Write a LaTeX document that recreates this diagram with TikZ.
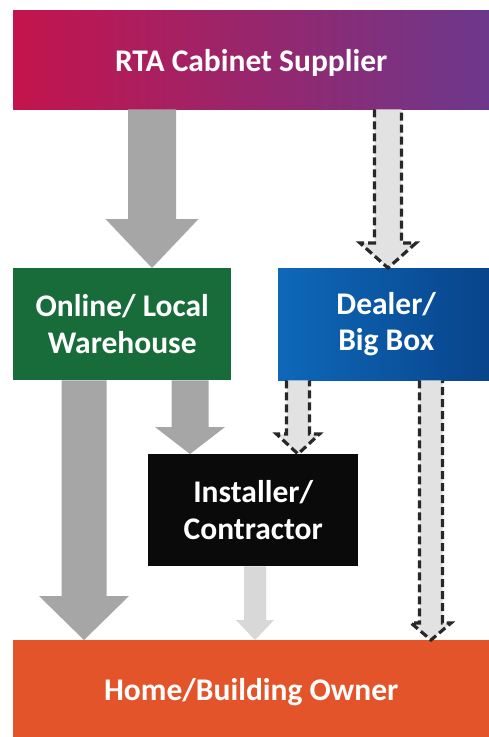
\documentclass[tikz,border=0pt]{standalone}
\usepackage{fontspec}
\setmainfont{Carlito}
\usetikzlibrary{calc}
\definecolor{supL}{RGB}{196,20,76}
\definecolor{supR}{RGB}{108,56,140}
\definecolor{whG}{RGB}{24,108,58}
\definecolor{dlL}{RGB}{14,104,186}
\definecolor{dlR}{RGB}{8,68,138}
\definecolor{ownO}{RGB}{228,84,42}
\definecolor{instK}{RGB}{10,10,10}
\definecolor{arrG}{RGB}{166,166,166}
\definecolor{arrL}{RGB}{216,216,216}
\definecolor{arrD}{RGB}{226,226,226}
\definecolor{dashK}{RGB}{40,40,40}
\newcommand\BlkArrow[7]{%
  \path[#7] let \p1=(#1.south), \p2=(#2.north) in
   (#3pt-#4pt,\y1) -- (#3pt-#4pt,\y2+#6pt) -- (#3pt-#5pt,\y2+#6pt) -- (#3pt,\y2)
   -- (#3pt+#5pt,\y2+#6pt) -- (#3pt+#4pt,\y2+#6pt) -- (#3pt+#4pt,\y1) -- cycle;}
\newcommand\DshArrow[6]{%
  \path[fill=arrD] let \p1=(#1.south), \p2=(#2.north) in
   (#3pt-#4pt,\y1) -- (#3pt-#4pt,\y2+#6pt) -- (#3pt-#5pt,\y2+#6pt) -- (#3pt,\y2)
   -- (#3pt+#5pt,\y2+#6pt) -- (#3pt+#4pt,\y2+#6pt) -- (#3pt+#4pt,\y1) -- cycle;
  \path[dashline] let \p1=(#1.south), \p2=(#2.north) in
   (#3pt-#4pt,\y1) -- (#3pt-#4pt,\y2+#6pt) -- (#3pt-#5pt,\y2+#6pt) -- (#3pt,\y2)
   -- (#3pt+#5pt,\y2+#6pt) -- (#3pt+#4pt,\y2+#6pt) -- (#3pt+#4pt,\y1);}
\newcommand\LowerTxt[1]{\raisebox{-3pt}[\height][\depth]{#1}}
\begin{document}
\begin{tikzpicture}[x=1pt,y=-1pt,
  box/.style={rectangle, inner sep=0pt, anchor=north west, text=white, align=center,
    font=\bfseries\fontsize{31.5}{36.5}\selectfont},
  dashline/.style={draw=dashK, line width=3.2pt, dash pattern=on 8pt off 4pt},
  grayarrow/.style={fill=arrG},
  lightarrow/.style={fill=arrL}]
\useasboundingbox (0,0) rectangle (489,737);
\fill[white] (0,0) rectangle (489,737);
\node[box, left color=supL, right color=supR, minimum width=476pt, minimum height=99pt] (sup) at (13,10) {\LowerTxt{RTA Cabinet Supplier}};
\node[box, fill=whG, minimum width=218pt, minimum height=112pt] (wh) at (13,268) {Online/ Local\\Warehouse};
\node[box, left color=dlL, right color=dlR, minimum width=211pt, minimum height=112pt] (dl) at (278,268) {\hspace*{5pt}Dealer/\\\hspace*{5pt}Big Box};
\node[box, fill=instK, minimum width=210pt, minimum height=112pt] (inst) at (148,454) {Installer/\\Contractor};
\node[box, fill=ownO, minimum width=476pt, minimum height=97pt] (own) at (13,640) {\LowerTxt{Home/Building Owner}};
% connectors
\BlkArrow{sup}{wh}{152}{24}{46.5}{49}{grayarrow}
\DshArrow{sup}{dl}{388}{13.5}{28}{25}
\BlkArrow{wh}{own}{84}{22.5}{45}{44}{grayarrow}
\BlkArrow{wh}{inst}{190}{18.5}{35}{27}{grayarrow}
\DshArrow{dl}{inst}{298}{11.5}{21.5}{20}
\DshArrow{dl}{own}{431}{11.5}{20}{17}
\BlkArrow{inst}{own}{255}{11}{19}{20}{lightarrow}
\end{tikzpicture}
\end{document}
